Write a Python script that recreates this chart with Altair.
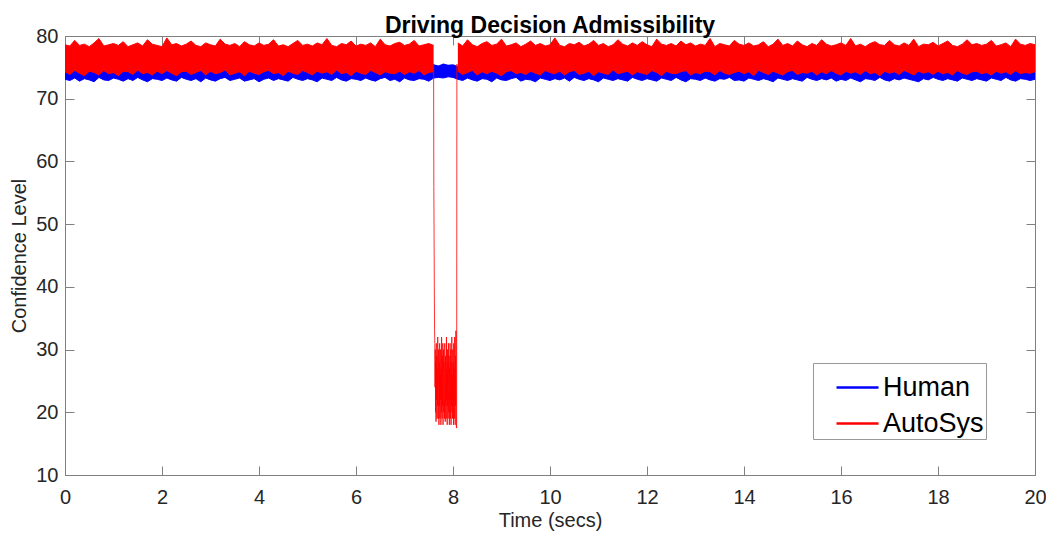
import altair as alt
import pandas as pd

# sample times (0.1 s grid)
times = [round(i * 0.1, 1) for i in range(201)]

# AutoSys (red) band: upper / lower envelope
red_hi = [
    78.6, 78.4, 79.3, 78.5, 78.7, 78.3, 78.9, 79.6, 78.4, 78.6,
    78.8, 78.5, 79.1, 78.3, 78.6, 78.9, 78.4, 79.4, 78.7, 78.5,
    78.3, 79.7, 78.6, 78.8, 78.4, 78.7, 79.2, 78.5, 78.3, 78.9,
    78.6, 78.4, 79.5, 78.7, 78.5, 78.8, 78.3, 79.1, 78.6, 78.4,
    78.9, 78.5, 78.7, 79.4, 78.4, 78.6, 78.3, 78.8, 79.3, 78.5,
    78.7, 78.4, 78.9, 78.6, 79.6, 78.5, 78.3, 78.8, 78.6, 79.2,
    78.4, 78.7, 78.5, 78.9, 78.3, 79.5, 78.6, 78.4, 78.8, 79.0,
    78.5, 78.7, 79.3, 78.4, 78.6, 78.8, 78.5, 78.6, 78.6, 78.6,
    78.6, 78.9, 78.4, 79.4, 78.6, 78.3, 78.8, 79.1, 78.5, 78.7,
    79.5, 78.4, 78.6, 78.9, 78.3, 78.7, 79.2, 78.5, 78.8, 78.4,
    78.6, 79.7, 78.5, 78.3, 78.8, 78.6, 79.0, 78.4, 78.7, 79.3,
    78.5, 78.8, 78.3, 78.6, 79.4, 78.7, 78.4, 78.9, 78.5, 79.1,
    78.6, 78.3, 79.5, 78.7, 78.5, 78.8, 78.4, 79.2, 78.6, 78.9,
    78.4, 78.7, 78.5, 79.6, 78.3, 78.8, 78.6, 78.4, 79.3, 78.7,
    78.5, 78.9, 78.4, 78.6, 79.1, 78.3, 78.7, 79.5, 78.5, 78.8,
    78.4, 79.2, 78.6, 78.3, 78.8, 78.5, 79.4, 78.7, 78.4, 78.6,
    78.9, 78.5, 79.6, 78.4, 78.7, 78.3, 78.8, 79.1, 78.6, 78.5,
    79.3, 78.6, 78.4, 78.9, 78.5, 79.5, 78.3, 78.7, 78.6, 79.0,
    78.4, 78.8, 79.2, 78.5, 78.3, 78.7, 79.4, 78.6, 78.8, 78.5,
    78.7, 79.3, 78.4, 78.6, 78.9, 78.3, 79.5, 78.7, 78.5, 78.8,
    78.6,
]
red_lo = [
    74.2, 73.8, 74.4, 74.0, 73.6, 74.3, 74.1, 73.7, 74.4, 73.9,
    74.1, 73.6, 74.3, 74.2, 73.8, 74.5, 73.9, 74.1, 73.7, 74.3,
    73.9, 74.4, 74.0, 73.6, 74.2, 74.3, 73.8, 74.1, 74.4, 73.7,
    74.3, 73.9, 74.1, 74.5, 73.7, 74.0, 74.2, 73.6, 74.3, 74.0,
    73.8, 74.2, 74.4, 73.9, 74.1, 73.6, 74.3, 74.0, 73.8, 74.4,
    74.1, 73.7, 74.3, 74.0, 74.2, 73.8, 74.5, 73.9, 74.1, 73.6,
    74.3, 74.0, 73.8, 74.4, 74.1, 73.7, 74.2, 74.0, 73.9, 74.3,
    73.8, 74.2, 74.0, 74.4, 73.7, 74.1, 74.2, 74.0, 74.0, 74.0,
    74.0, 74.3, 73.8, 74.1, 74.4, 73.7, 74.2, 73.9, 74.3, 74.0,
    73.6, 74.2, 74.4, 73.9, 74.1, 73.8, 74.3, 74.0, 73.7, 74.4,
    74.1, 73.9, 74.3, 73.7, 74.2, 74.4, 73.8, 74.0, 74.3, 73.6,
    74.2, 74.0, 73.8, 74.5, 73.9, 74.1, 74.3, 73.7, 74.2, 74.0,
    73.8, 74.4, 74.1, 73.6, 74.3, 74.0, 73.9, 74.2, 74.4, 73.7,
    74.1, 73.9, 74.3, 74.2, 73.7, 74.4, 74.0, 73.8, 74.1, 74.3,
    73.9, 74.2, 73.6, 74.4, 74.1, 73.8, 74.3, 74.0, 73.7, 74.2,
    74.4, 73.8, 74.1, 74.0, 74.3, 73.7, 74.2, 73.9, 74.4, 74.0,
    73.7, 74.3, 74.0, 74.2, 73.8, 74.4, 73.9, 74.1, 73.6, 74.3,
    74.0, 74.2, 73.8, 74.4, 74.1, 73.7, 74.3, 74.0, 74.2, 73.8,
    74.3, 73.9, 74.1, 73.7, 74.4, 74.0, 73.8, 74.2, 74.3, 73.9,
    74.1, 73.7, 74.3, 74.0, 74.2, 73.8, 74.4, 73.9, 74.1, 74.0,
    74.2,
]

# Human (blue) band: lower / upper envelope
blue_lo = [
    73.1, 72.9, 73.3, 72.8, 73.2, 73.0, 72.7, 73.4, 73.0, 72.9,
    73.3, 73.1, 72.8, 73.2, 72.9, 73.4, 73.0, 72.7, 73.2, 73.1,
    72.9, 73.3, 73.0, 72.8, 73.4, 73.1, 72.9, 73.2, 72.7, 73.3,
    73.0, 72.8, 73.2, 73.4, 72.9, 73.1, 73.3, 72.8, 73.0, 73.2,
    72.7, 73.1, 73.3, 72.9, 73.2, 73.0, 72.8, 73.4, 73.1, 72.9,
    73.2, 73.0, 72.7, 73.3, 73.1, 72.9, 73.4, 73.0, 72.8, 73.2,
    73.1, 72.9, 73.3, 73.0, 72.8, 73.2, 73.4, 72.9, 73.1, 72.7,
    73.3, 73.0, 72.9, 73.2, 73.1, 72.8, 73.3, 73.4, 73.3, 73.5,
    73.4, 73.1, 72.9, 73.3, 73.0, 72.8, 73.2, 73.1, 72.7, 73.3,
    73.0, 72.9, 73.2, 73.4, 72.8, 73.1, 73.0, 72.7, 73.3, 73.1,
    72.9, 73.2, 73.0, 73.3, 72.8, 73.4, 73.1, 72.9, 73.2, 73.0,
    72.7, 73.3, 73.1, 72.9, 73.2, 73.0, 72.8, 73.4, 73.1, 72.9,
    73.2, 73.0, 72.8, 73.3, 73.1, 72.9, 73.4, 73.0, 72.7, 73.2,
    73.1, 72.9, 73.3, 73.0, 72.8, 73.2, 73.1, 73.4, 72.9, 73.0,
    72.8, 73.3, 73.1, 72.9, 73.2, 73.0, 72.7, 73.3, 73.1, 72.9,
    73.2, 73.0, 72.8, 73.4, 73.1, 72.9, 73.2, 73.0, 73.3, 72.8,
    73.1, 72.9, 73.3, 73.0, 72.7, 73.2, 73.1, 72.9, 73.4, 73.0,
    72.8, 73.2, 73.0, 73.3, 73.1, 72.9, 72.7, 73.2, 73.0, 73.4,
    73.1, 72.9, 73.2, 73.0, 72.8, 73.3, 73.1, 72.9, 73.2, 73.0,
    72.8, 73.3, 73.1, 72.9, 73.4, 73.0, 72.8, 73.2, 73.1, 72.9,
    73.1,
]
blue_hi = [
    75.4, 75.1, 75.6, 75.2, 75.5, 75.0, 75.7, 75.3, 75.5, 75.1,
    75.6, 75.2, 75.4, 75.0, 75.7, 75.3, 75.5, 75.1, 75.6, 75.2,
    75.3, 75.6, 75.1, 75.5, 75.2, 75.7, 75.0, 75.4, 75.6, 75.3,
    75.1, 75.5, 75.2, 75.6, 75.0, 75.4, 75.7, 75.3, 75.5, 75.1,
    75.6, 75.2, 75.4, 75.0, 75.5, 75.3, 75.7, 75.1, 75.4, 75.6,
    75.2, 75.5, 75.0, 75.4, 75.6, 75.3, 75.1, 75.5, 75.2, 75.7,
    75.3, 75.6, 75.1, 75.4, 75.0, 75.5, 75.2, 75.6, 75.3, 75.4,
    75.1, 75.5, 75.2, 75.6, 75.3, 75.4, 75.5, 75.3, 75.6, 75.4,
    75.5, 75.2, 75.6, 75.1, 75.4, 75.3, 75.7, 75.0, 75.5, 75.2,
    75.6, 75.3, 75.1, 75.5, 75.4, 75.0, 75.6, 75.2, 75.7, 75.3,
    75.1, 75.5, 75.3, 75.6, 75.2, 75.4, 75.0, 75.5, 75.2, 75.6,
    75.3, 75.7, 75.1, 75.4, 75.2, 75.5, 75.0, 75.6, 75.3, 75.4,
    75.1, 75.5, 75.2, 75.7, 75.3, 75.4, 75.0, 75.6, 75.2, 75.5,
    75.3, 75.6, 75.1, 75.4, 75.2, 75.5, 75.0, 75.7, 75.3, 75.4,
    75.2, 75.6, 75.1, 75.5, 75.3, 75.4, 75.0, 75.6, 75.2, 75.5,
    75.3, 75.7, 75.1, 75.4, 75.2, 75.6, 75.0, 75.5, 75.3, 75.4,
    75.1, 75.6, 75.2, 75.5, 75.3, 75.7, 75.0, 75.4, 75.2, 75.6,
    75.3, 75.5, 75.1, 75.4, 75.2, 75.6, 75.0, 75.5, 75.3, 75.7,
    75.2, 75.4, 75.1, 75.6, 75.3, 75.5, 75.0, 75.4, 75.2, 75.6,
    75.3, 75.5, 75.1, 75.7, 75.2, 75.4, 75.0, 75.6, 75.3, 75.5,
    75.2,
]

# AutoSys collapse between ~7.6 s and ~8.08 s
gap_t = [
    7.600, 7.605, 7.610, 7.615, 7.620, 7.625, 7.630, 7.635, 7.640, 7.645,
    7.650, 7.655, 7.660, 7.665, 7.670, 7.675, 7.680, 7.685, 7.690, 7.695,
    7.700, 7.705, 7.710, 7.715, 7.720, 7.725, 7.730, 7.735, 7.740, 7.745,
    7.750, 7.755, 7.760, 7.765, 7.770, 7.775, 7.780, 7.785, 7.790, 7.795,
    7.800, 7.805, 7.810, 7.815, 7.820, 7.825, 7.830, 7.835, 7.840, 7.845,
    7.850, 7.855, 7.860, 7.865, 7.870, 7.875, 7.880, 7.885, 7.890, 7.895,
    7.900, 7.905, 7.910, 7.915, 7.920, 7.925, 7.930, 7.935, 7.940, 7.945,
    7.950, 7.955, 7.960, 7.965, 7.970, 7.975, 7.980, 7.985, 7.990, 7.995,
    8.000, 8.005, 8.010, 8.015, 8.020, 8.025, 8.030, 8.035, 8.040, 8.045,
    8.050, 8.055, 8.060, 8.065, 8.070, 8.075, 8.080, 8.085,
]
gap_v = [
    75.5, 56.0, 48.0, 40.0, 33.0, 31.0, 24.0, 30.0, 20.0, 28.0,
    18.5, 31.0, 22.0, 29.0, 19.0, 27.0, 21.0, 32.0, 23.0, 19.0,
    30.0, 24.0, 18.0, 28.0, 21.0, 31.0, 19.0, 26.0, 22.0, 30.0,
    18.0, 27.0, 20.0, 32.0, 23.0, 19.0, 29.0, 21.0, 31.0, 18.0,
    25.0, 30.0, 20.0, 28.0, 22.0, 19.0, 31.0, 24.0, 18.5, 29.0,
    21.0, 27.0, 19.0, 32.0, 22.0, 26.0, 18.0, 30.0, 21.0, 28.0,
    19.0, 31.0, 23.0, 20.0, 29.0, 18.0, 27.0, 22.0, 31.0, 19.0,
    25.0, 30.0, 18.0, 28.0, 21.0, 32.0, 20.0, 26.0, 19.0, 30.0,
    22.0, 28.0, 18.0, 31.0, 21.0, 27.0, 19.0, 32.0, 23.0, 18.0,
    29.0, 21.0, 33.0, 20.0, 17.5, 17.5, 75.5, 75.0,
]

x_ticks = [0, 2, 4, 6, 8, 10, 12, 14, 16, 18, 20]
y_ticks = [10, 20, 30, 40, 50, 60, 70, 80]
series_names = ["Human", "AutoSys"]
series_colors = ["#0000ff", "#ff0000"]

W, H = 970, 439
FONT = "Liberation Sans"
AX = "#808080"
TXT = "#262626"

df = pd.DataFrame({"t": times, "red_hi": red_hi, "red_lo": red_lo,
                   "blue_lo": blue_lo, "blue_hi": blue_hi})
df["Human"] = "Human"
df_red = df[(df["t"] <= 7.6) | (df["t"] >= 8.1)].copy()
df_red["seg"] = ["a" if t <= 7.6 else "b" for t in df_red["t"]]
df_red["AutoSys"] = "AutoSys"
df_gap = pd.DataFrame({"t": gap_t, "v": gap_v})
df_gap["AutoSys"] = "AutoSys"

xs = alt.Scale(domain=[0, 20], nice=False, zero=False)
ys = alt.Scale(domain=[10, 80], nice=False, zero=False)
color = alt.Scale(domain=series_names, range=series_colors)

x_main = alt.Axis(values=x_ticks, ticks=False, grid=False, domainColor=AX,
                  labelFontSize=20, labelColor=TXT, labelFont=FONT,
                  labelPadding=12, labelFlush=False,
                  title="Time (secs)", titleFont=FONT, titleFontSize=20,
                  titleFontWeight="normal", titleColor=TXT, titlePadding=3)
y_main = alt.Axis(values=y_ticks, ticks=False, grid=False, domainColor=AX,
                  labelFontSize=20, labelColor=TXT, labelFont=FONT,
                  labelPadding=7, labelFlush=False,
                  title="Confidence Level", titleFont=FONT, titleFontSize=20,
                  titleFontWeight="normal", titleColor=TXT, titlePadding=6)

legend = alt.Legend(title=None, orient="none", legendX=748, legendY=327,
                    symbolType="stroke", symbolSize=1764, symbolStrokeWidth=2.5,
                    labelFontSize=27, labelFont=FONT, labelColor="black",
                    strokeColor="#999999", fillColor="white", padding=2,
                    symbolOffset=20, labelOffset=3, rowPadding=0)

blue_area = alt.Chart(df).mark_area(color="#0000ff").encode(
    x=alt.X("t:Q", scale=xs, axis=x_main),
    y=alt.Y("blue_lo:Q", scale=ys, axis=y_main),
    y2="blue_hi:Q",
)
blue_line = alt.Chart(df).mark_line(strokeWidth=1).encode(
    x=alt.X("t:Q", scale=xs),
    y=alt.Y("blue_lo:Q", scale=ys),
    color=alt.Color("Human:N", scale=color, legend=legend),
)
red_area = alt.Chart(df_red).mark_area(color="#ff0000").encode(
    x=alt.X("t:Q", scale=xs),
    y=alt.Y("red_lo:Q", scale=ys),
    y2="red_hi:Q",
    detail="seg:N",
)
red_line = alt.Chart(df_red).mark_line(strokeWidth=1).encode(
    x=alt.X("t:Q", scale=xs),
    y=alt.Y("red_hi:Q", scale=ys),
    detail="seg:N",
    color=alt.Color("AutoSys:N", scale=color, legend=legend),
)
gap_line = alt.Chart(df_gap).mark_line(strokeWidth=0.8).encode(
    x=alt.X("t:Q", scale=xs),
    y=alt.Y("v:Q", scale=ys),
    color=alt.Color("AutoSys:N", scale=color, legend=legend),
)

main = alt.layer(blue_area, blue_line, red_area, red_line, gap_line)

# inward tick marks on all four sides (MATLAB box style)
ticks_a = alt.Chart(df).mark_point(opacity=0, size=1).encode(
    x=alt.X("t:Q", scale=xs, axis=alt.Axis(orient="top", offset=-H, values=x_ticks,
            labels=False, tickSize=9, tickColor=AX, domainColor=AX, grid=False, title=None)),
    y=alt.Y("blue_lo:Q", scale=ys, axis=alt.Axis(orient="right", offset=-W, values=y_ticks,
            labels=False, tickSize=9, tickColor=AX, domainColor=AX, grid=False, title=None)),
)
ticks_b = alt.Chart(df).mark_point(opacity=0, size=1).encode(
    x=alt.X("t:Q", scale=xs, axis=alt.Axis(orient="bottom", offset=-H, values=x_ticks,
            labels=False, tickSize=9, tickColor=AX, domainColor=AX, grid=False, title=None)),
    y=alt.Y("blue_lo:Q", scale=ys, axis=alt.Axis(orient="left", offset=-W, values=y_ticks,
            labels=False, tickSize=9, tickColor=AX, domainColor=AX, grid=False, title=None)),
)

chart = alt.layer(main, ticks_a, ticks_b).resolve_scale(
    x="independent", y="independent"
).properties(
    width=W, height=H,
    title=alt.Title("Driving Decision Admissibility", fontSize=23, fontWeight="bold",
                    font=FONT, color="black", offset=2, dy=14, anchor="middle", frame="group"),
    autosize=alt.AutoSizeParams(type="none"),
    padding={"left": 57, "top": 28, "right": 11, "bottom": 56},
).configure_view(stroke=None).configure(background="white")

chart.save("out.html", embed_options={"renderer": "svg", "actions": False})
